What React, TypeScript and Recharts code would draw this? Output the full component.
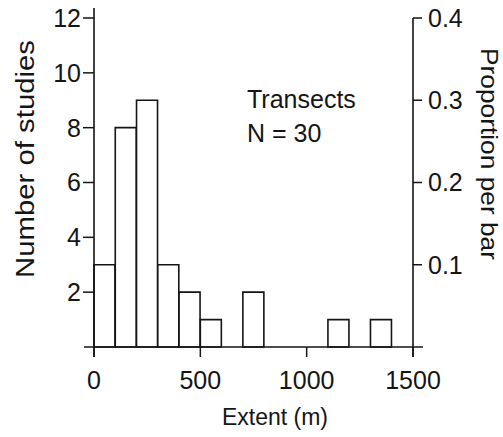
import React from 'react';
import { ComposedChart, Bar, Line, XAxis, YAxis, ReferenceLine, Customized } from 'recharts';

// histogram bins (m), 100 m wide
const binStarts = [0, 100, 200, 300, 400, 500, 600, 700, 800, 900, 1000, 1100, 1200, 1300];
const binWidth = 100;
const counts = [3, 8, 9, 3, 2, 1, 0, 2, 0, 0, 0, 1, 0, 1];
const nStudies = 30;

const xTicks = [0, 500, 1000, 1500];
const countTicks = [2, 4, 6, 8, 10, 12];
const propTicks = [0.1, 0.2, 0.3, 0.4];
const noteLines = ['Transects', 'N = 30'];

const data = binStarts.map((s, i) => ({
  mid: s + binWidth / 2,
  count: counts[i],
  share: counts[i] / nStudies,
}));

const INK = '#151515';
const FONT = '"Liberation Sans", Arial, Helvetica, sans-serif';
// axis lines overhang the plot by ~10px, in data units
const EXT_X = 47;
const EXT_Y = 0.365;

const LeftTitle = (props: any) => {
  const { x, y, height } = props.viewBox;
  return (
    <text
      transform={`translate(${x + 34},${y + height / 2 - 23.5}) rotate(-90)`}
      textAnchor="middle"
      fontSize={26}
      fontFamily={FONT}
      fill={INK}
      textLength={238}
      lengthAdjust="spacingAndGlyphs"
    >
      Number of studies
    </text>
  );
};

const RightTitle = (props: any) => {
  const { x, y, height } = props.viewBox;
  return (
    <text
      transform={`translate(${x + 68},${y + height / 2 - 28.5}) rotate(90)`}
      textAnchor="middle"
      fontSize={24}
      fontFamily={FONT}
      fill={INK}
      textLength={212}
      lengthAdjust="spacingAndGlyphs"
    >
      Proportion per bar
    </text>
  );
};

const BottomTitle = (props: any) => {
  const { x, y, width } = props.viewBox;
  return (
    <text x={x + width / 2 + 21.5} y={y + 78} textAnchor="middle" fontSize={23} fontFamily={FONT} fill={INK}>
      Extent (m)
    </text>
  );
};

const Note = () => (
  <g fontFamily={FONT} fontSize={25} fill={INK}>
    {noteLines.map((t, i) => (
      <text key={t} x={247} y={108 + i * 34}>{t}</text>
    ))}
  </g>
);

export default function App() {
  const tickStyle = { fontSize: 25, fill: INK, fontFamily: FONT };
  const tickLine = { stroke: INK, strokeWidth: 1.5 };
  return (
    <div style={{ position: 'absolute', left: 0, top: 0, background: '#fff' }}>
      <ComposedChart
        width={503}
        height={437}
        data={data}
        margin={{ top: 18, right: 0, bottom: 0, left: 0 }}
        barCategoryGap={0}
        barGap={0}
      >
        <XAxis
          dataKey="mid"
          type="number"
          domain={[0, 1500]}
          ticks={xTicks}
          height={90}
          axisLine={false}
          tickLine={tickLine}
          tickSize={10}
          tickMargin={14}
          tick={tickStyle}
          interval={0}
          label={<BottomTitle />}
        />
        <YAxis
          yAxisId="left"
          domain={[0, 12]}
          ticks={countTicks}
          width={94}
          axisLine={false}
          tickLine={tickLine}
          tickSize={11}
          tickMargin={2}
          tick={tickStyle}
          interval={0}
          label={<LeftTitle />}
        />
        <YAxis
          yAxisId="right"
          orientation="right"
          domain={[0, 0.4]}
          ticks={propTicks}
          width={90}
          axisLine={false}
          tickLine={tickLine}
          tickSize={9}
          tickMargin={6}
          tick={tickStyle}
          interval={0}
          label={<RightTitle />}
        />
        <Bar
          yAxisId="left"
          dataKey="count"
          fill="#fff"
          stroke={INK}
          strokeWidth={1.6}
          isAnimationActive={false}
        />
        {/* invisible series so the proportion axis is drawn */}
        <Line
          yAxisId="right"
          dataKey="share"
          stroke="none"
          dot={false}
          activeDot={false}
          isAnimationActive={false}
        />
        <ReferenceLine
          yAxisId="left"
          ifOverflow="visible"
          segment={[{ x: -EXT_X, y: 0 }, { x: 1500 + EXT_X, y: 0 }]}
          stroke={INK}
          strokeWidth={1.6}
        />
        <ReferenceLine
          yAxisId="left"
          ifOverflow="visible"
          segment={[{ x: 0, y: -EXT_Y }, { x: 0, y: 12 + EXT_Y }]}
          stroke={INK}
          strokeWidth={1.6}
        />
        <ReferenceLine
          yAxisId="left"
          ifOverflow="visible"
          segment={[{ x: 1500, y: -EXT_Y }, { x: 1500, y: 12 }]}
          stroke={INK}
          strokeWidth={1.6}
        />
        <Customized component={<Note />} />
      </ComposedChart>
    </div>
  );
}
